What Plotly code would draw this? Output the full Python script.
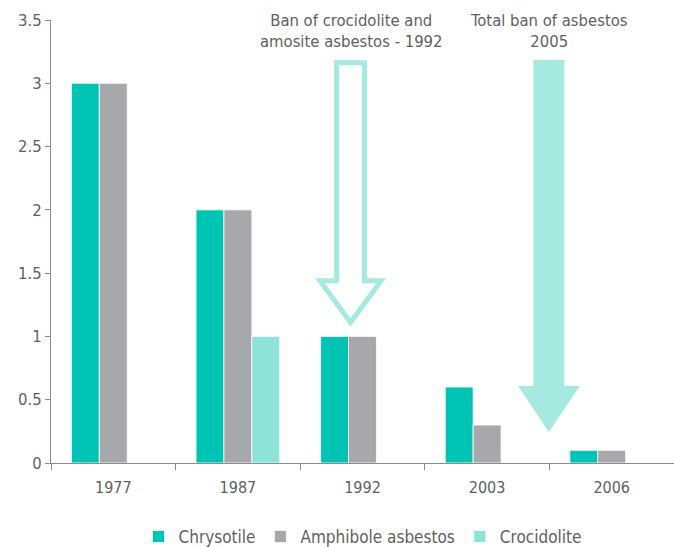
import plotly.graph_objects as go

years = ["1977", "1987", "1992", "2003", "2006"]
chrysotile = [3, 2, 1, 0.6, 0.1]
amphibole = [3, 2, 1, 0.3, 0.1]
crocidolite = [None, 1, None, None, None]

series_names = ["Chrysotile", "Amphibole asbestos", "Crocidolite"]
series_colors = ["#00C4B3", "#A7A8AC", "#8EE3D9"]
arrow_color = "#A6E9E0"

# annotation arrows (data coords: category index, value)
ban1_label = "Ban of crocidolite and<br>amosite asbestos - 1992"
ban1_x, ban1_top, ban1_headtop, ban1_tip = 1.904, 3.163, 1.44, 1.11
ban2_label = "Total ban of asbestos<br>2005"
ban2_x, ban2_top, ban2_headtop, ban2_tip = 3.496, 3.183, 0.608, 0.245

FONT = "DejaVu Sans Condensed, Roboto"
TXT = "#5F5F5F"
AXC = "#8C8C8C"

fig = go.Figure()
for name, vals, col in zip(series_names, [chrysotile, amphibole, crocidolite], series_colors):
    fig.add_trace(go.Bar(x=years, y=vals, name=name, marker_color=col,
                         marker_line=dict(color="white", width=0.8)))


def arrow_path(cx, top, headtop, tip, sw, hw):
    pts = [(cx - sw, top), (cx + sw, top), (cx + sw, headtop), (cx + hw, headtop),
           (cx, tip), (cx - hw, headtop), (cx - sw, headtop)]
    return "M " + " L ".join(f"{x},{y}" for x, y in pts) + " Z"


fig.add_shape(type="path", xref="x", yref="y",
              path=arrow_path(ban1_x, ban1_top, ban1_headtop, ban1_tip, 0.112, 0.245),
              line=dict(color=arrow_color, width=5), fillcolor="rgba(0,0,0,0)")
fig.add_shape(type="path", xref="x", yref="y",
              path=arrow_path(ban2_x, ban2_top, ban2_headtop, ban2_tip, 0.124, 0.248),
              line=dict(width=0), fillcolor=arrow_color)

for lbl, xx in [(ban1_label, ban1_x), (ban2_label, ban2_x)]:
    fig.add_annotation(x=xx, y=3.41, xref="x", yref="y", text=lbl, showarrow=False,
                       font=dict(family=FONT, size=16.5, color=TXT), yanchor="middle",
                       xanchor="center", align="center")

fig.update_layout(
    width=674, height=547,
    margin=dict(l=51, r=0, t=20, b=84, autoexpand=False),
    paper_bgcolor="white", plot_bgcolor="white",
    barmode="group", bargap=0.328, bargroupgap=0,
    font=dict(family=FONT, size=16, color=TXT),
    legend=dict(orientation="h", x=0.5, xanchor="center", y=-0.167, yanchor="middle",
                font=dict(family=FONT, size=17, color=TXT)),
    showlegend=True,
)
fig.update_xaxes(type="category", showline=True, linecolor=AXC, linewidth=1,
                 ticks="outside", ticklen=6, tickcolor=AXC, tickson="boundaries",
                 showgrid=False, ticklabelstandoff=10,
                 tickfont=dict(family=FONT, size=16, color=TXT))
fig.update_yaxes(range=[0, 3.5], dtick=0.5, showline=True, linecolor=AXC, linewidth=1,
                 ticks="outside", ticklen=5, tickcolor=AXC, showgrid=False, zeroline=False,
                 tickfont=dict(family=FONT, size=16.5, color=TXT))

fig.write_html("out.html")
